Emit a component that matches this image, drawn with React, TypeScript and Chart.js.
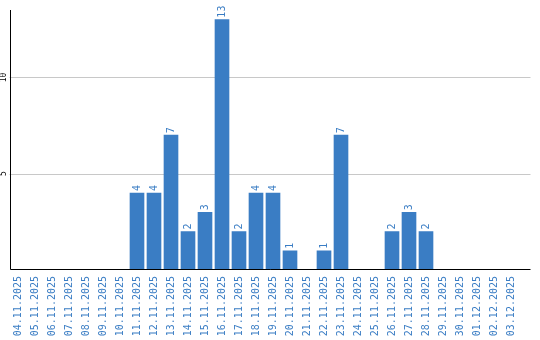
import React, { useEffect, useRef } from "react";
import { Chart, registerables } from "chart.js";

Chart.register(...registerables);

const categories: string[] = [
  "04.11.2025", "05.11.2025", "06.11.2025", "07.11.2025", "08.11.2025",
  "09.11.2025", "10.11.2025", "11.11.2025", "12.11.2025", "13.11.2025",
  "14.11.2025", "15.11.2025", "16.11.2025", "17.11.2025", "18.11.2025",
  "19.11.2025", "20.11.2025", "21.11.2025", "22.11.2025", "23.11.2025",
  "24.11.2025", "25.11.2025", "26.11.2025", "27.11.2025", "28.11.2025",
  "29.11.2025", "30.11.2025", "01.12.2025", "02.12.2025", "03.12.2025",
];

const values: number[] = [
  0, 0, 0, 0, 0, 0, 0, 4, 4, 7,
  2, 3, 13, 2, 4, 4, 1, 0, 1, 7,
  0, 0, 2, 3, 2, 0, 0, 0, 0, 0,
];

const yTickValues: number[] = [5, 10];

const BLUE = "#3a7dc4";
const GRID = "#c8c8c8";
const MONO = "'DejaVu Sans Mono', monospace";
const EXT = 11;

const extrasPlugin = {
  id: "extras",
  beforeDatasetsDraw(chart: any) {
    const { ctx, chartArea } = chart;
    const y = chart.scales.y;
    ctx.save();
    ctx.lineWidth = 1;
    ctx.strokeStyle = GRID;
    for (const v of yTickValues) {
      const py = Math.round(y.getPixelForValue(v)) + 0.5;
      ctx.beginPath();
      ctx.moveTo(chartArea.left, py);
      ctx.lineTo(chartArea.right + EXT, py);
      ctx.stroke();
    }
    ctx.restore();
  },
  afterDraw(chart: any) {
    const { ctx, chartArea } = chart;
    ctx.save();
    ctx.lineWidth = 1;
    ctx.strokeStyle = "#000";
    const lx = Math.round(chartArea.left) + 0.5;
    const by = Math.round(chartArea.bottom) - 0.5;
    ctx.beginPath();
    ctx.moveTo(lx, chartArea.top);
    ctx.lineTo(lx, by);
    ctx.lineTo(chartArea.right + EXT, by);
    ctx.stroke();

    const meta = chart.getDatasetMeta(0);
    ctx.fillStyle = BLUE;
    ctx.font = `10px ${MONO}`;
    ctx.textAlign = "left";
    ctx.textBaseline = "middle";
    meta.data.forEach((bar: any, i: number) => {
      const v = values[i];
      if (!v) return;
      ctx.save();
      ctx.translate(Math.round(bar.x), bar.y - 2);
      ctx.rotate(-Math.PI / 2);
      ctx.fillText(String(v), 0, 0);
      ctx.restore();
    });
    ctx.restore();
  },
};

export default function App() {
  const ref = useRef<HTMLCanvasElement>(null);
  useEffect(() => {
    if (!ref.current) return;
    const chart = new Chart(ref.current, {
      type: "bar",
      data: {
        labels: categories,
        datasets: [
          {
            data: values,
            backgroundColor: BLUE,
            borderWidth: 0,
            barThickness: 14,
          },
        ],
      },
      options: {
        animation: false,
        responsive: false,
        devicePixelRatio: 1,
        layout: { padding: { top: 10, right: 20.5, left: 0, bottom: 0 } },
        plugins: {
          legend: { display: false },
          tooltip: { enabled: false },
        },
        scales: {
          x: {
            grid: { display: false, drawTicks: false },
            border: { display: false },
            ticks: {
              color: BLUE,
              font: { family: MONO, size: 10 },
              minRotation: 90,
              maxRotation: 90,
              padding: 6,
              autoSkip: false,
            },
            afterFit(scale: any) {
              scale.height = 70;
            },
          },
          y: {
            min: 0,
            max: 13.5,
            grid: { display: false, drawTicks: false },
            border: { display: false },
            afterBuildTicks(scale: any) {
              scale.ticks = yTickValues.map((v) => ({ value: v }));
            },
            ticks: {
              color: "#000",
              font: { family: MONO, size: 8 },
              minRotation: 90,
              maxRotation: 90,
              crossAlign: "center",
              padding: 1,
            },
            afterFit(scale: any) {
              scale.width = 9.5;
            },
          },
        },
      },
      plugins: [extrasPlugin],
    });
    return () => chart.destroy();
  }, []);
  return (
    <div style={{ position: "absolute", left: 0, top: 0, width: 540, height: 340, background: "#fff" }}>
      <canvas ref={ref} width={540} height={340} style={{ display: "block" }} />
    </div>
  );
}
